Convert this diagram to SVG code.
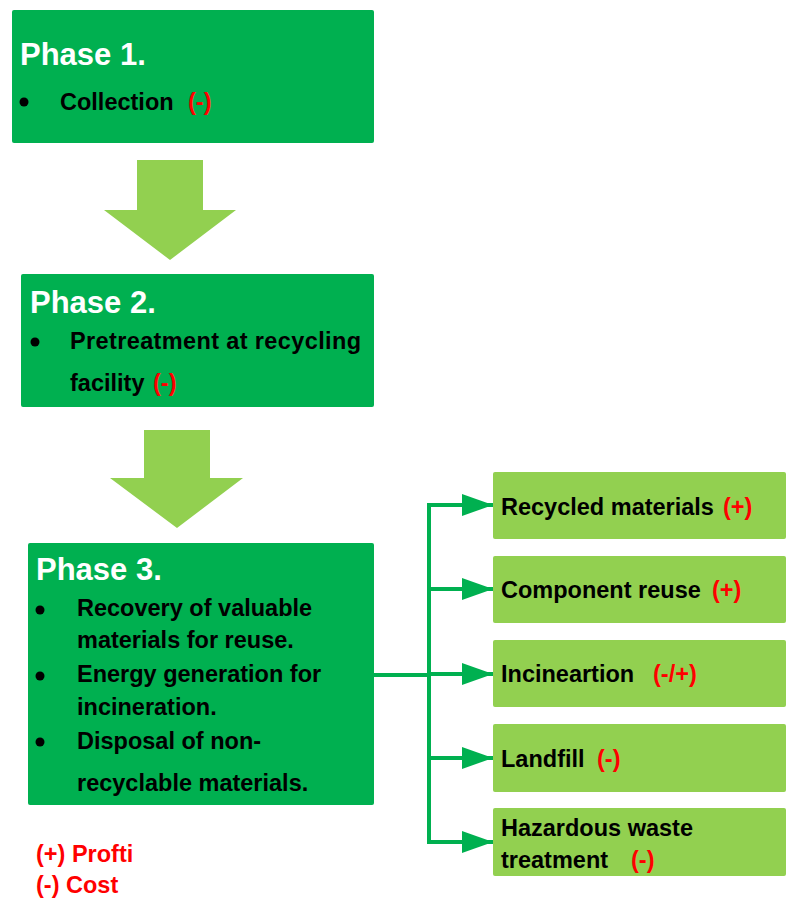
<svg xmlns="http://www.w3.org/2000/svg" width="786" height="900" viewBox="0 0 786 900">
<style>
.phase{fill:#00B050}
.out{fill:#92D050}
.blk{fill:#92D050}
.title{font-family:"Liberation Sans",Arial,sans-serif;font-weight:bold;font-size:31px;fill:#FFFFFF}
.t{font-family:"Liberation Sans",Arial,sans-serif;font-weight:bold;font-size:23.5px;fill:#000000}
.r{fill:#FF0000}
.conn{stroke:#00B050;stroke-width:4;fill:none}
</style>
<defs>
<marker id="ah" markerUnits="userSpaceOnUse" markerWidth="32" markerHeight="22" refX="31" refY="11" orient="auto">
<path d="M0,0 L31,11 L0,22 Z" fill="#00B050"/>
</marker>
</defs>
<rect width="786" height="900" fill="#FFFFFF"/>

<g id="phase1">
<rect class="phase" x="12" y="10" width="362" height="133" rx="2"/>
<text class="title" x="20" y="65">Phase 1.</text>
<circle cx="24" cy="102" r="4.5" fill="#000"/>
<text class="t" x="60" y="110">Collection</text>
<text class="t r" x="188" y="110">(-)</text>
</g>

<g id="arrow1">
<path class="blk" d="M137,160 H203 V210 H236 L170,260 L104,210 H137 Z"/>
</g>

<g id="phase2">
<rect class="phase" x="21" y="274" width="353" height="133" rx="2"/>
<text class="title" x="30" y="313">Phase 2.</text>
<circle cx="35" cy="342" r="4.5" fill="#000"/>
<text class="t" x="70" y="349" textLength="291" lengthAdjust="spacing">Pretreatment at recycling</text>
<text class="t" x="70" y="391">facility</text>
<text class="t r" x="153" y="391">(-)</text>
</g>

<g id="arrow2">
<path class="blk" d="M144,430 H210 V478 H243 L177,528 L110,478 H144 Z"/>
</g>

<g id="phase3">
<rect class="phase" x="28" y="543" width="346" height="262" rx="2"/>
<text class="title" x="36" y="580">Phase 3.</text>
<circle cx="40" cy="610" r="4.5" fill="#000"/>
<text class="t" x="77" y="616">Recovery of valuable</text>
<text class="t" x="77" y="648">materials for reuse.</text>
<circle cx="40" cy="676" r="4.5" fill="#000"/>
<text class="t" x="77" y="682">Energy generation for</text>
<text class="t" x="77" y="715">incineration.</text>
<circle cx="40" cy="742" r="4.5" fill="#000"/>
<text class="t" x="77" y="749">Disposal of non-</text>
<text class="t" x="77" y="791">recyclable materials.</text>
</g>

<g id="out1">
<rect class="out" x="493" y="472" width="293" height="67" rx="2"/>
<text class="t" x="501" y="515">Recycled materials</text>
<text class="t r" x="723" y="515">(+)</text>
</g>
<g id="out2">
<rect class="out" x="493" y="556" width="293" height="67" rx="2"/>
<text class="t" x="501" y="598">Component reuse</text>
<text class="t r" x="712" y="598">(+)</text>
</g>
<g id="out3">
<rect class="out" x="493" y="640" width="293" height="67" rx="2"/>
<text class="t" x="501" y="682">Incineartion</text>
<text class="t r" x="653" y="682">(-/+)</text>
</g>
<g id="out4">
<rect class="out" x="493" y="724" width="293" height="68" rx="2"/>
<text class="t" x="501" y="767">Landfill</text>
<text class="t r" x="597" y="767">(-)</text>
</g>
<g id="out5">
<rect class="out" x="493" y="808" width="293" height="68" rx="2"/>
<text class="t" x="501" y="836">Hazardous waste</text>
<text class="t" x="501" y="868">treatment</text>
<text class="t r" x="631" y="868">(-)</text>
</g>

<g id="connectors">
<path class="conn" d="M374,675 H429"/>
<path class="conn" d="M429,503 V843"/>
<path class="conn" d="M427,505 H493" marker-end="url(#ah)"/>
<path class="conn" d="M429,589 H493" marker-end="url(#ah)"/>
<path class="conn" d="M429,674 H493" marker-end="url(#ah)"/>
<path class="conn" d="M429,758 H493" marker-end="url(#ah)"/>
<path class="conn" d="M427,842 H493" marker-end="url(#ah)"/>
</g>

<g id="legend">
<text class="t r" x="36" y="862">(+) Profti</text>
<text class="t r" x="36" y="893">(-) Cost</text>
</g>
</svg>
